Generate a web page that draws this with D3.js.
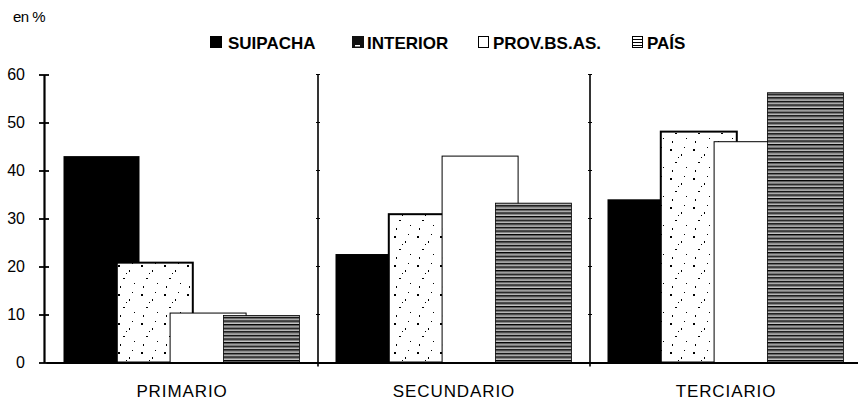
<!DOCTYPE html>
<html><head><meta charset="utf-8">
<script src="https://cdn.jsdelivr.net/npm/d3@7"></script>
<style>
html,body{margin:0;padding:0;background:#fff;}
svg{display:block;font-family:"Liberation Sans",Arial,sans-serif;}
</style></head>
<body>
<svg id="chart" width="858" height="402"></svg>
<script>
const categories = ["PRIMARIO", "SECUNDARIO", "TERCIARIO"];
const seriesNames = ["SUIPACHA", "INTERIOR", "PROV.BS.AS.", "PAÍS"];
const suipacha = [43, 22.6, 34];
const interior = [20.8, 30.9, 48.1];
const provBsAs = [10.3, 43, 46];
const pais = [9.8, 33.2, 56.2];
const yTicks = [0, 10, 20, 30, 40, 50, 60];
const unitLabel = "en %";

const seriesValues = [suipacha, interior, provBsAs, pais];

const svg = d3.select("#chart");
const defs = svg.append("defs");

// stipple pattern for INTERIOR
const st = defs.append("pattern").attr("id","stipple").attr("patternUnits","userSpaceOnUse")
  .attr("width",23).attr("height",29);
st.append("rect").attr("width",23).attr("height",29).attr("fill","#fff");
[[3,4,2,2],[14,9,1,2],[8,17,2,1],[19,22,1,1],[5,25,1,2],[17,2,1,1],[11,12,1,1]].forEach(d=>{
  st.append("rect").attr("x",d[0]).attr("y",d[1]).attr("width",d[2]).attr("height",d[3]).attr("fill","#000");
});
// stripe pattern for PAÍS
const sp = defs.append("pattern").attr("id","stripes").attr("patternUnits","userSpaceOnUse")
  .attr("width",10).attr("height",3.6);
sp.append("rect").attr("width",10).attr("height",3.6).attr("fill","#fff");
sp.append("rect").attr("y",0).attr("width",10).attr("height",1.5).attr("fill","#000");
sp.append("rect").attr("y",2.1).attr("width",10).attr("height",0.9).attr("fill","#555");

const y = d3.scaleLinear().domain([0,60]).range([362.5,74.5]);
const x0 = d3.scaleBand().domain(categories).range([46, 862]).paddingInner(0).paddingOuter(0);
const xs = d3.scalePoint().domain(seriesNames).range([17.5, 17.5 + 3*53.3]);
const barW = 76;

const fills = ["#000", "url(#stipple)", "#fff", "url(#stripes)"];
const strokes = ["#000", "#000", "#000", "#000"];
const strokeW = [0, 2, 1, 0.8];

// bars: draw series in order so later ones overlap earlier ones
seriesNames.forEach((s, si) => {
  svg.append("g").selectAll("rect").data(categories).join("rect")
    .attr("x", c => x0(c) + xs(s))
    .attr("y", (c, i) => y(seriesValues[si][i]))
    .attr("width", barW)
    .attr("height", (c, i) => y(0) - y(seriesValues[si][i]))
    .attr("fill", fills[si])
    .attr("stroke", strokes[si])
    .attr("stroke-width", strokeW[si]);
});

// Y axis
const yAxis = d3.axisLeft(y).tickValues(yTicks).tickSize(5).tickSizeOuter(0).tickPadding(14);
const gy = svg.append("g").attr("transform","translate(44,0)").call(yAxis);
gy.select(".domain").attr("stroke","#000").attr("stroke-width",2.2);
gy.selectAll(".tick line").attr("stroke","#000").attr("stroke-width",1.8).attr("x1",5).attr("x2",-5);
gy.selectAll(".tick text").attr("font-size",16).attr("fill","#000").attr("font-family","Liberation Sans, Arial, sans-serif");

// Category dividers
categories.slice(1).forEach(c => {
  const xx = x0(c);
  svg.append("line").attr("x1",xx).attr("x2",xx).attr("y1",y(60)).attr("y2",y(0)+4)
    .attr("stroke","#000").attr("stroke-width",1.6);
  yTicks.forEach(t => {
    svg.append("line").attr("x1",xx-2).attr("x2",xx+2).attr("y1",y(t)).attr("y2",y(t))
      .attr("stroke","#000").attr("stroke-width",1);
  });
});

// X axis
const xAxis = d3.axisBottom(x0).tickSize(0).tickPadding(22);
const gx = svg.append("g").attr("transform",`translate(0,${y(0)})`).call(xAxis);
gx.select(".domain").attr("stroke","#000").attr("stroke-width",2.2);
gx.selectAll(".tick text").attr("font-size",17).attr("fill","#000").attr("letter-spacing","0.9px")
  .attr("font-family","Liberation Sans, Arial, sans-serif");

// unit label
svg.append("text").attr("x",13).attr("y",22).attr("font-size",15).attr("fill","#000")
  .attr("letter-spacing","-0.5px").text(unitLabel);

// legend
const legendX = [210, 352, 478, 632];
const lg = svg.append("g").attr("transform","translate(0,42)");
seriesNames.forEach((s, i) => {
  const g = lg.append("g").attr("transform",`translate(${legendX[i]},0)`);
  if (i === 0) g.append("rect").attr("x",0).attr("y",-6).attr("width",12).attr("height",12).attr("fill","#000");
  if (i === 1) {
    g.append("rect").attr("x",0).attr("y",-6).attr("width",12).attr("height",12).attr("fill","#111");
    g.append("rect").attr("x",3).attr("y",3).attr("width",5).attr("height",1.5).attr("fill","#fff");
  }
  if (i === 2) g.append("rect").attr("x",0.5).attr("y",-5.5).attr("width",10).attr("height",11).attr("fill","#fff").attr("stroke","#000").attr("stroke-width",1);
  if (i === 3) {
    g.append("rect").attr("x",0.5).attr("y",-5.5).attr("width",10).attr("height",11).attr("fill","#fff").attr("stroke","#000").attr("stroke-width",1);
    [-2.5,0.5,3.5].forEach(yy => g.append("line").attr("x1",1).attr("x2",10).attr("y1",yy).attr("y2",yy).attr("stroke","#000").attr("stroke-width",1));
  }
  g.append("text").attr("x",i === 0 ? 18 : 15).attr("y",6.5).attr("font-size",17).attr("font-weight","bold")
    .attr("fill","#000").text(s);
});
</script>
</body></html>
